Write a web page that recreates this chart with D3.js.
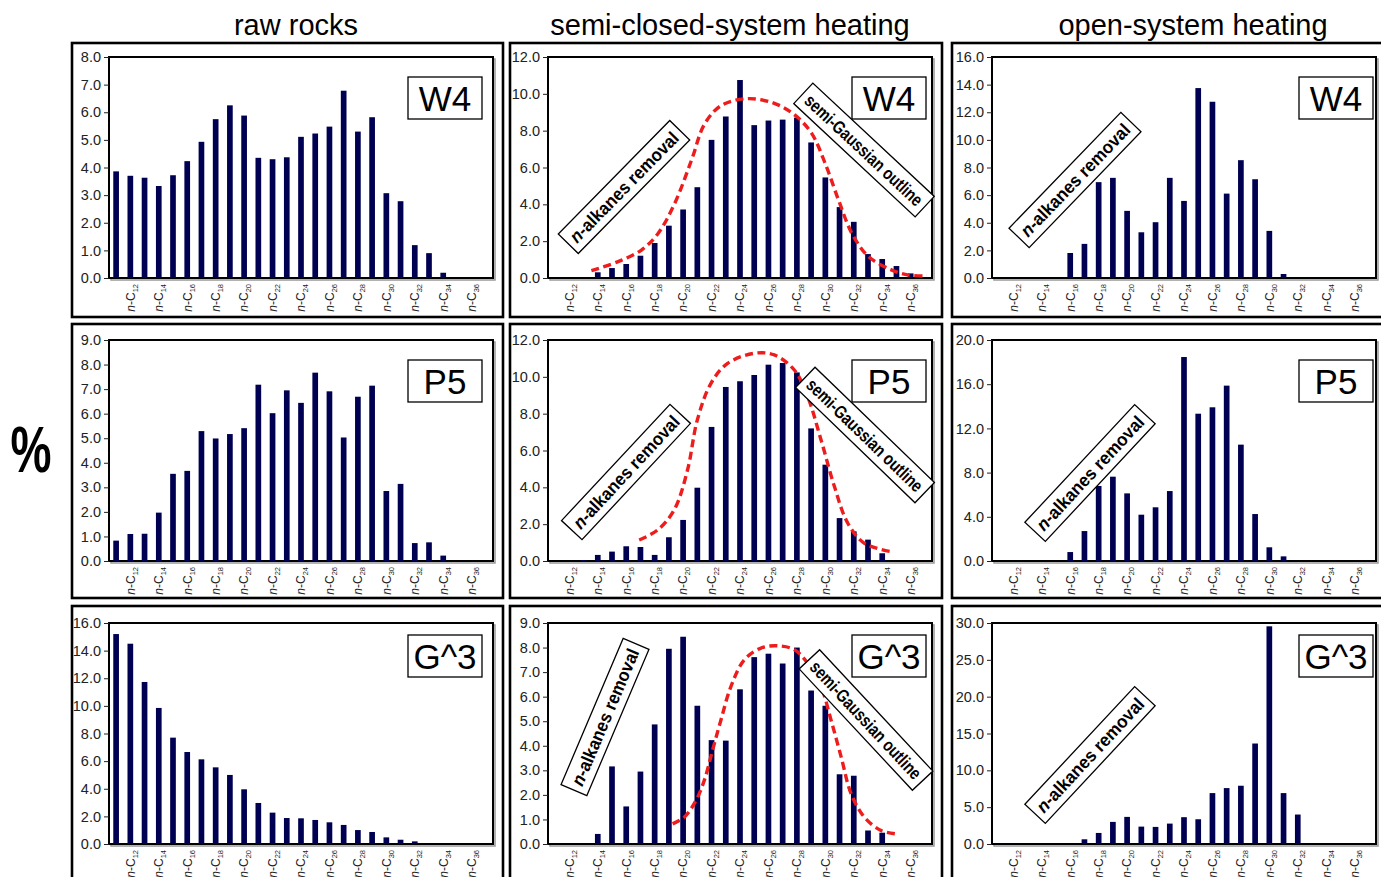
<!DOCTYPE html>
<html>
<head>
<meta charset="utf-8">
<script src="https://cdn.jsdelivr.net/npm/d3@7"></script>
<style>
  body { margin: 0; background: #fff; }
  svg { display: block; font-family: Arial, "Liberation Sans", sans-serif; }
</style>
</head>
<body>
<svg id="chart" width="1381" height="877"></svg>
<script>
// carbon numbers, one slot each (n-C11 ... n-C37)
const carbons = d3.range(11, 38);
const tickCarbons = [12, 14, 16, 18, 20, 22, 24, 26, 28, 30, 32, 34, 36];
const columns = ["raw rocks", "semi-closed-system heating", "open-system heating"];
const samples = ["W4", "P5", "G^3"];

// % values starting at n-C11, null = no bar
const rawW4  = [3.86, 3.70, 3.63, 3.33, 3.72, 4.23, 4.93, 5.75, 6.25, 5.88, 4.35, 4.30, 4.37, 5.11, 5.23, 5.48, 6.78, 5.30, 5.82, 3.07, 2.78, 1.19, 0.90, 0.19];
const semiW4 = [null, null, null, 0.31, 0.54, 0.76, 1.21, 1.90, 2.84, 3.72, 4.93, 7.50, 8.77, 10.75, 8.30, 8.55, 8.60, 8.71, 7.36, 5.46, 3.85, 3.05, 1.30, 1.03, 0.65, 0.25];
const openW4 = [null, null, null, null, null, 1.81, 2.47, 6.94, 7.25, 4.86, 3.31, 4.04, 7.25, 5.58, 13.75, 12.76, 6.11, 8.53, 7.15, 3.41, 0.29];

const rawP5  = [0.83, 1.10, 1.11, 1.97, 3.55, 3.67, 5.29, 4.99, 5.17, 5.41, 7.18, 6.02, 6.95, 6.44, 7.67, 6.91, 5.03, 6.69, 7.14, 2.85, 3.14, 0.73, 0.76, 0.22];
const semiP5 = [null, null, 0.05, 0.33, 0.51, 0.80, 0.76, 0.33, 1.29, 2.23, 3.98, 7.28, 9.45, 9.76, 10.10, 10.66, 10.75, 10.24, 7.20, 5.23, 2.33, 1.61, 1.16, 0.42];
const openP5 = [null, null, null, null, null, 0.81, 2.71, 6.79, 7.63, 6.12, 4.19, 4.86, 6.33, 18.46, 13.33, 13.91, 15.87, 10.53, 4.25, 1.24, 0.42];

const rawG3  = [15.2, 14.5, 11.73, 9.85, 7.70, 6.66, 6.13, 5.55, 5.00, 3.96, 2.97, 2.27, 1.88, 1.86, 1.74, 1.57, 1.38, 1.01, 0.87, 0.48, 0.31, 0.19];
const semiG3 = [null, null, null, 0.41, 3.16, 1.53, 2.95, 4.87, 7.95, 8.44, 5.63, 4.23, 4.21, 6.30, 7.61, 7.75, 7.35, 8.00, 6.25, 5.63, 2.84, 2.78, 0.55, 0.46];
const openG3 = [null, null, null, null, null, null, 0.64, 1.50, 3.00, 3.68, 2.36, 2.32, 2.77, 3.64, 3.36, 6.91, 7.59, 7.91, 13.64, 29.55, 6.91, 4.00];

// semi-Gaussian outlines [carbon number, %]
const outlineW4 = [[13.55, 0.40], [15.43, 0.89], [17.07, 1.52], [18.24, 2.42], [19.41, 4.05], [20.59, 6.40], [21.53, 8.39], [22.71, 9.38], [24.58, 9.74], [26.46, 9.47], [27.87, 8.84], [29.05, 7.84], [29.99, 6.22], [30.93, 4.23], [31.87, 2.42], [33.04, 1.16], [34.68, 0.43], [35.86, 0.16], [37.15, 0.11]];
const outlineP5 = [[16.91, 1.14], [18.2, 1.68], [19.37, 2.77], [20.31, 4.94], [21.0, 7.66], [21.96, 9.65], [23.13, 10.73], [25.0, 11.28], [26.41, 11.19], [27.82, 10.37], [28.76, 8.92], [29.7, 6.57], [30.64, 4.04], [31.58, 2.05], [32.75, 0.96], [34.63, 0.51]];
const outlineG3 = [[19.26, 0.82], [20.08, 1.09], [20.9, 1.77], [21.49, 2.59], [22.07, 3.82], [22.66, 5.05], [23.36, 6.41], [24.3, 7.50], [25.48, 7.98], [26.65, 8.07], [27.83, 7.91], [28.76, 7.36], [29.7, 6.41], [30.4, 5.05], [31.11, 3.55], [31.81, 2.05], [32.75, 1.09], [33.92, 0.55], [34.98, 0.41]];

// y-axis extent and tick step, rows x columns
const yMax  = [[8, 12, 16], [9, 12, 20], [16, 9, 30]];
const yStep = [[1, 2, 2], [1, 2, 4], [2, 1, 5]];

const series = [[rawW4, semiW4, openW4], [rawP5, semiP5, openP5], [rawG3, semiG3, openG3]];
const outlines = [outlineW4, outlineP5, outlineG3];

// layout
const plotLeft = [109, 548, 992], plotTop = [57, 340, 623];
const plotW = 384, plotH = 221;
const frameX = [[72, 503], [510, 942], [952, 1400]];
const frameY = [[43, 317], [324, 598], [606, 895]];
const titleX = [296, 730, 1193];
const boxDx = [299, 304, 307], boxDy = [20, 20, 12];
// rotated note boxes: [row, col, text, cx, cy, angle, len]
const notes = [
  [0, 1, "removal", 76, 130, -45.5, 159], [0, 1, "gauss", 316, 93, 43, 166],
  [1, 1, "removal", 78, 132, -47, 159],   [1, 1, "gauss", 317, 95, 44, 166],
  [2, 1, "removal", 57, 94, -67, 159],    [2, 1, "gauss", 318, 97, 47, 166],
  [0, 2, "removal", 83, 123, -46, 161],
  [1, 2, "removal", 98, 133, -47, 161],
  [2, 2, "removal", 98, 132, -47, 161]
];

const svg = d3.select("#chart");
const barColor = "#000052";

const x = d3.scaleBand().domain(carbons).range([0, plotW]).paddingInner(0.6).paddingOuter(0.3);
const xc = d3.scaleLinear().domain([10.5, 37.5]).range([0, plotW]);

// column titles
svg.selectAll(".title").data(columns).join("text")
  .attr("x", (d, i) => titleX[i]).attr("y", 35)
  .attr("text-anchor", "middle").attr("font-size", 29).attr("fill", "#000")
  .text(d => d);

svg.append("text")
  .attr("transform", "translate(31,472) scale(0.72,1)")
  .attr("text-anchor", "middle").attr("font-size", 64).attr("font-weight", "bold")
  .text("%");

for (let r = 0; r < 3; r++) {
  for (let c = 0; c < 3; c++) {
    // outer frame
    svg.append("rect")
      .attr("x", frameX[c][0]).attr("y", frameY[r][0])
      .attr("width", frameX[c][1] - frameX[c][0]).attr("height", frameY[r][1] - frameY[r][0])
      .attr("fill", "none").attr("stroke", "#000").attr("stroke-width", 2.6);

    const g = svg.append("g").attr("transform", `translate(${plotLeft[c]},${plotTop[r]})`);
    const y = d3.scaleLinear().domain([0, yMax[r][c]]).range([plotH, 0]);
    const vals = series[r][c].map((v, i) => ({ c: carbons[i], v })).filter(d => d.v != null);

    // faint shadow then plot area
    g.append("rect").attr("x", 2).attr("y", 2).attr("width", plotW).attr("height", plotH)
      .attr("fill", "none").attr("stroke", "#999").attr("stroke-width", 1.5);
    g.append("rect").attr("width", plotW).attr("height", plotH)
      .attr("fill", "#fff").attr("stroke", "#000").attr("stroke-width", 2);

    g.selectAll(".bar").data(vals).join("rect")
      .attr("x", d => x(d.c)).attr("width", x.bandwidth())
      .attr("y", d => y(d.v)).attr("height", d => plotH - y(d.v))
      .attr("fill", barColor);

    // y axis
    const ticks = d3.range(0, yMax[r][c] + 0.001, yStep[r][c]);
    const yAxis = g.append("g")
      .call(d3.axisLeft(y).tickValues(ticks).tickFormat(d3.format(".1f")).tickSize(5).tickPadding(3));
    yAxis.select(".domain").remove();
    yAxis.selectAll("text").attr("font-size", 14.5).attr("fill", "#222")
      .attr("font-family", "Arial, 'Liberation Sans', sans-serif");
    yAxis.selectAll("line").attr("stroke", "#222");

    // x labels n-Cxx
    const lab = g.selectAll(".xl").data(tickCarbons).join("text")
      .attr("transform", d => `translate(${x(d) + x.bandwidth() / 2},${plotH + 6}) rotate(-90)`)
      .attr("text-anchor", "end").attr("dy", "0.36em")
      .attr("font-size", 12).attr("fill", "#222");
    lab.append("tspan").attr("font-style", "italic").text("n");
    lab.append("tspan").text("-C");
    lab.append("tspan").attr("font-size", 7.5).attr("dy", 3).text(d => d);

    // semi-Gaussian outline
    if (c === 1) {
      g.append("path").datum(outlines[r])
        .attr("d", d3.line().x(d => xc(d[0])).y(d => y(d[1])).curve(d3.curveCatmullRom))
        .attr("fill", "none").attr("stroke", "#ee1c1c").attr("stroke-width", 3.4)
        .attr("stroke-dasharray", "8,4.5");
    }

    // sample label box
    const lb = g.append("g").attr("transform", `translate(${boxDx[c]},${boxDy[r]})`);
    lb.append("rect").attr("width", 74).attr("height", 42)
      .attr("fill", "#fff").attr("stroke", "#000").attr("stroke-width", 1.3);
    lb.append("text").attr("x", 37).attr("y", 33.5).attr("text-anchor", "middle")
      .attr("font-size", 35).text(samples[r]);
  }
}

// rotated note boxes
notes.forEach(([r, c, kind, cx, cy, ang, len]) => {
  const g = svg.append("g")
    .attr("transform", `translate(${plotLeft[c] + cx},${plotTop[r] + cy}) rotate(${ang})`);
  g.append("rect").attr("x", -len / 2).attr("y", -14).attr("width", len).attr("height", 28)
    .attr("fill", "#fff").attr("stroke", "#000").attr("stroke-width", 1.3);
  const t = g.append("text").attr("text-anchor", "middle").attr("y", 6.5)
    .attr("font-size", 18).attr("font-weight", "bold")
    .attr("textLength", len - 12).attr("lengthAdjust", "spacingAndGlyphs");
  if (kind === "removal") {
    t.append("tspan").attr("font-style", "italic").text("n");
    t.append("tspan").text("-alkanes removal");
  } else {
    t.text("semi-Gaussian outline");
  }
});
</script>
</body>
</html>
